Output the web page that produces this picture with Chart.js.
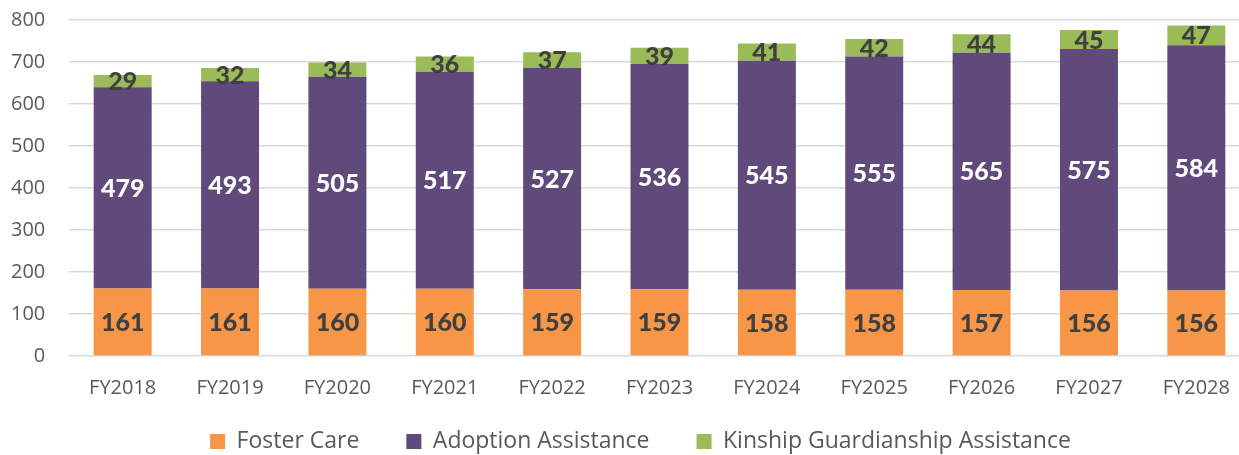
<!DOCTYPE html>
<html>
<head>
<meta charset="utf-8">
<script src="https://cdn.jsdelivr.net/npm/chart.js@4/dist/chart.umd.min.js"></script>
<style>
  html, body { margin: 0; padding: 0; background: #fff; overflow: hidden; }
  #wrap { width: 1282px; height: 455px; position: relative; }
</style>
</head>
<body>
<div id="wrap"><canvas id="chart"></canvas></div>
<script>
const years = ['FY2018', 'FY2019', 'FY2020', 'FY2021', 'FY2022', 'FY2023', 'FY2024', 'FY2025', 'FY2026', 'FY2027', 'FY2028'];
const fosterCare = [161, 161, 160, 160, 159, 159, 158, 158, 157, 156, 156];
const adoptionAssistance = [479, 493, 505, 517, 527, 536, 545, 555, 565, 575, 584];
const kinshipGuardianship = [29, 32, 34, 36, 37, 39, 41, 42, 44, 45, 47];
const yTicks = [0, 100, 200, 300, 400, 500, 600, 700, 800];

const TEXT_FONT = '"Open Sans", sans-serif';
const LABEL_FONT = 'Lato, "Open Sans", sans-serif';

// draws the value in the middle of each stacked segment
const segmentLabels = {
  id: 'segmentLabels',
  afterDatasetsDraw(chart) {
    const ctx = chart.ctx;
    ctx.save();
    ctx.font = `900 25px ${LABEL_FONT}`;
    ctx.textAlign = 'center';
    ctx.textBaseline = 'middle';
    chart.data.datasets.forEach((ds, i) => {
      chart.getDatasetMeta(i).data.forEach((bar, j) => {
        const mid = (bar.y + bar.base) / 2;
        ctx.fillStyle = ds.labelColor;
        ctx.fillText(String(ds.data[j]), bar.x, mid + 1);
      });
    });
    ctx.restore();
  }
};

new Chart(document.getElementById('chart'), {
  type: 'bar',
  data: {
    labels: years,
    datasets: [
      { label: 'Foster Care', data: fosterCare, backgroundColor: '#F79646', labelColor: '#404040' },
      { label: 'Adoption Assistance', data: adoptionAssistance, backgroundColor: '#604A7B', labelColor: '#FFFFFF' },
      { label: 'Kinship Guardianship Assistance', data: kinshipGuardianship, backgroundColor: '#9BBB59', labelColor: '#404040' },
    ]
  },
  options: {
    responsive: true,
    maintainAspectRatio: false,
    animation: false,
    barPercentage: 0.54,
    categoryPercentage: 1,
    layout: { padding: { top: 0, left: 31, right: 32, bottom: -8 } },
    plugins: {
      legend: {
        position: 'bottom',
        labels: {
          color: '#595959',
          font: { family: TEXT_FONT, size: 23 },
          boxWidth: 15,
          boxHeight: 15,
          padding: 47
        }
      },
      tooltip: { enabled: false }
    },
    scales: {
      x: {
        stacked: true,
        grid: { display: false, drawTicks: false },
        border: { display: false },
        // mirror keeps the labels from being clipped to the (short) axis box; padding is flipped too
        ticks: { color: '#595959', font: { family: TEXT_FONT, size: 20 }, padding: -44, mirror: true },
        afterFit: axis => { axis.height = 27; }
      },
      y: {
        stacked: true,
        min: 0,
        max: 800,
        afterBuildTicks: axis => { axis.ticks = yTicks.map(v => ({ value: v })); },
        afterFit: axis => { axis.width = 38; axis.paddingTop = 20; axis.paddingBottom = 0; },
        grid: { color: '#D9D9D9', lineWidth: 1.5, drawTicks: false },
        border: { display: false },
        ticks: { color: '#595959', font: { family: TEXT_FONT, size: 20 }, mirror: true, crossAlign: 'far', padding: -58 }
      }
    }
  },
  plugins: [segmentLabels]
});
</script>
</body>
</html>
